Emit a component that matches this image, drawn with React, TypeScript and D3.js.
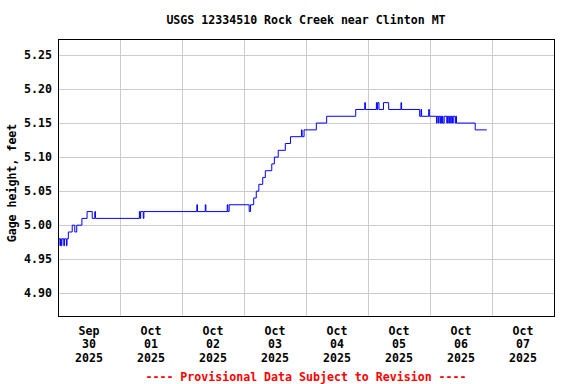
import { useEffect, useRef } from 'react';
import * as d3 from 'd3';

// gage readings: each entry is the time a value starts (step changes)
const gageReadings: [string, number][] = [
  ['2025-09-30T00:00', 4.98], ['2025-09-30T00:45', 4.97], ['2025-09-30T01:00', 4.98],
  ['2025-09-30T01:15', 4.97], ['2025-09-30T01:30', 4.98], ['2025-09-30T02:15', 4.97],
  ['2025-09-30T02:30', 4.98], ['2025-09-30T03:15', 4.97], ['2025-09-30T03:30', 4.98],
  ['2025-09-30T04:00', 4.99], ['2025-09-30T05:30', 5.0], ['2025-09-30T06:30', 4.99],
  ['2025-09-30T07:15', 5.0], ['2025-09-30T09:15', 5.01], ['2025-09-30T11:15', 5.02],
  ['2025-09-30T13:15', 5.01], ['2025-09-30T14:15', 5.02], ['2025-09-30T14:30', 5.01],
  ['2025-10-01T07:30', 5.02], ['2025-10-01T07:45', 5.01], ['2025-10-01T08:00', 5.02],
  ['2025-10-01T09:00', 5.01], ['2025-10-01T09:15', 5.02],
  ['2025-10-02T05:45', 5.03], ['2025-10-02T06:00', 5.02], ['2025-10-02T09:00', 5.03],
  ['2025-10-02T09:15', 5.02], ['2025-10-02T17:30', 5.03], ['2025-10-02T17:45', 5.02],
  ['2025-10-02T18:15', 5.03],
  ['2025-10-03T02:00', 5.02], ['2025-10-03T02:30', 5.03], ['2025-10-03T03:45', 5.04],
  ['2025-10-03T04:45', 5.05], ['2025-10-03T05:45', 5.06], ['2025-10-03T07:15', 5.07],
  ['2025-10-03T08:15', 5.08], ['2025-10-03T10:45', 5.09], ['2025-10-03T11:45', 5.1],
  ['2025-10-03T13:15', 5.11], ['2025-10-03T16:00', 5.12], ['2025-10-03T18:00', 5.13],
  ['2025-10-03T22:15', 5.14], ['2025-10-03T22:30', 5.13], ['2025-10-03T23:15', 5.14],
  ['2025-10-04T04:00', 5.15], ['2025-10-04T08:00', 5.16], ['2025-10-04T19:15', 5.17],
  ['2025-10-04T22:45', 5.18], ['2025-10-04T23:00', 5.17],
  ['2025-10-05T03:15', 5.18], ['2025-10-05T03:30', 5.17], ['2025-10-05T03:45', 5.18],
  ['2025-10-05T04:15', 5.17], ['2025-10-05T06:00', 5.18], ['2025-10-05T08:00', 5.17],
  ['2025-10-05T12:45', 5.18], ['2025-10-05T13:00', 5.17], ['2025-10-05T20:00', 5.16],
  ['2025-10-05T20:30', 5.17], ['2025-10-05T20:45', 5.16], ['2025-10-05T23:30', 5.17],
  ['2025-10-05T23:45', 5.16],
  ['2025-10-06T02:30', 5.15], ['2025-10-06T02:45', 5.16], ['2025-10-06T03:15', 5.15],
  ['2025-10-06T03:30', 5.16], ['2025-10-06T04:00', 5.15], ['2025-10-06T04:15', 5.16],
  ['2025-10-06T04:30', 5.15], ['2025-10-06T04:45', 5.16], ['2025-10-06T05:00', 5.15],
  ['2025-10-06T05:30', 5.16], ['2025-10-06T06:30', 5.15], ['2025-10-06T06:45', 5.16],
  ['2025-10-06T07:15', 5.15], ['2025-10-06T07:30', 5.16], ['2025-10-06T08:00', 5.15],
  ['2025-10-06T08:15', 5.16], ['2025-10-06T08:45', 5.15], ['2025-10-06T09:00', 5.16],
  ['2025-10-06T09:45', 5.15], ['2025-10-06T10:00', 5.16], ['2025-10-06T10:15', 5.15],
  ['2025-10-06T17:30', 5.14], ['2025-10-06T22:00', 5.14],
];

const dayTicks = [
  '2025-09-30', '2025-10-01', '2025-10-02', '2025-10-03',
  '2025-10-04', '2025-10-05', '2025-10-06', '2025-10-07', '2025-10-08',
];
const yTicks = [4.9, 4.95, 5.0, 5.05, 5.1, 5.15, 5.2, 5.25];

const FONT = '"DejaVu Sans Mono", monospace';

export default function App() {
  const svgRef = useRef<SVGSVGElement>(null);

  useEffect(() => {
    if (!svgRef.current) return;
    const svg = d3.select(svgRef.current);
    svg.selectAll('*').remove();

    const margin = { top: 39, right: 22, bottom: 68, left: 58 };
    const width = 576 - margin.left - margin.right;
    const height = 384 - margin.top - margin.bottom;

    const parseTime = d3.timeParse('%Y-%m-%dT%H:%M');
    const parseDay = d3.timeParse('%Y-%m-%d');
    const days = dayTicks.map(d => parseDay(d) as Date);
    const data = gageReadings.map(([t, v]) => ({ t: parseTime(t) as Date, v }));

    const x = d3.scaleTime().domain([days[0], days[days.length - 1]]).range([0, width]);
    const y = d3.scaleLinear().domain([4.8666, 5.2735]).range([height, 0]);

    const g = svg.append('g').attr('transform', `translate(${margin.left},${margin.top})`);

    // grid
    g.selectAll('line.hgrid').data(yTicks).enter().append('line')
      .attr('x1', 0).attr('x2', width)
      .attr('y1', d => Math.round(y(d)) + 0.5).attr('y2', d => Math.round(y(d)) + 0.5)
      .attr('stroke', '#cccccc');
    g.selectAll('line.vgrid').data(days.slice(1, -1)).enter().append('line')
      .attr('x1', d => Math.round(x(d)) + 0.5).attr('x2', d => Math.round(x(d)) + 0.5)
      .attr('y1', 0).attr('y2', height)
      .attr('stroke', '#cccccc');

    // series
    const line = d3.line<{ t: Date; v: number }>()
      .x(d => x(d.t))
      .y(d => y(d.v))
      .curve(d3.curveStepAfter);
    g.append('path').datum(data)
      .attr('d', line)
      .attr('fill', 'none')
      .attr('stroke', '#0000ff')
      .attr('stroke-width', 1);

    // frame
    g.append('rect')
      .attr('x', 0.5).attr('y', 0.5)
      .attr('width', width).attr('height', height)
      .attr('fill', 'none').attr('stroke', '#000').attr('stroke-width', 1);

    const text = (sel: any) => sel
      .attr('font-family', FONT).attr('font-weight', 'bold').attr('font-size', '11.6px');

    // y tick labels
    g.selectAll('text.ytick').data(yTicks).enter().append('text')
      .call(text)
      .attr('x', -6).attr('y', d => y(d) + 4)
      .attr('text-anchor', 'end')
      .text(d => d3.format('.2f')(d));

    // x tick labels at noon of each day
    const fmts = [d3.timeFormat('%b'), d3.timeFormat('%d'), d3.timeFormat('%Y')];
    days.slice(0, -1).forEach(d => {
      const noon = d3.timeHour.offset(d, 12);
      fmts.forEach((f, i) => {
        g.append('text').call(text)
          .attr('x', x(noon)).attr('y', height + 19 + i * 13.3)
          .attr('text-anchor', 'middle')
          .text(f(noon));
      });
    });

    svg.append('text').call(text)
      .attr('x', 306).attr('y', 24).attr('text-anchor', 'middle')
      .text('USGS 12334510 Rock Creek near Clinton MT');

    svg.append('text').call(text)
      .attr('transform', 'translate(16,183) rotate(-90)')
      .attr('text-anchor', 'middle')
      .text('Gage height, feet');

    svg.append('text').call(text)
      .attr('x', 306).attr('y', 380.5).attr('text-anchor', 'middle')
      .attr('fill', '#ff0000')
      .text('---- Provisional Data Subject to Revision ----');
  }, []);

  return (
    <svg ref={svgRef} width={576} height={384}
      style={{ position: 'absolute', left: 0, top: 0, background: '#fff' }} />
  );
}
